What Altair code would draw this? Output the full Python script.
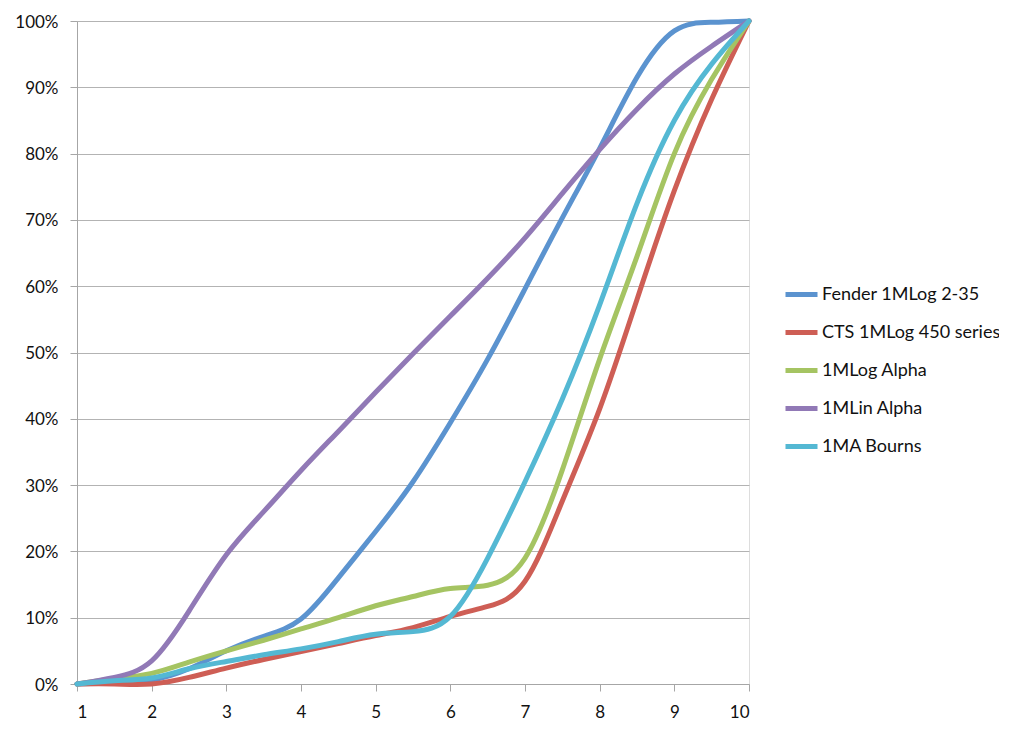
import altair as alt
import pandas as pd

x_vals = [1, 1.5, 2, 2.5, 3, 3.5, 4, 4.5, 5, 5.5, 6, 6.5, 7, 7.5, 8, 8.5, 9, 9.5, 10]

series_names = ["Fender 1MLog 2-35", "CTS 1MLog 450 series", "1MLog Alpha",
                "1MLin Alpha", "1MA Bourns"]
series_colors = ["#5B93CF", "#CE5E55", "#A5C462", "#9179B6", "#54B8D3"]

fender = [0, 0.2, 0.6, 2.3, 5, 7.2, 9.8, 16, 23, 30.5, 39.4, 49, 59.6, 70.3, 80.8, 91.5, 98.5, 99.8, 100]
cts = [0, 0, 0, 1, 2.4, 3.7, 4.9, 6.1, 7.3, 8.5, 10.2, 11.7, 15.5, 27.6, 41.5, 58, 74.4, 88.2, 100]
log_alpha = [0, 0.8, 1.6, 3.3, 5, 6.6, 8.3, 10, 11.8, 13.2, 14.4, 14.9, 19, 32.3, 49, 64.5, 80, 91.2, 100]
lin_alpha = [0, 1, 3.5, 11, 19.5, 26, 32.2, 38.1, 44, 49.8, 55.5, 61.2, 67.3, 74, 80.6, 86.7, 92, 96.2, 100]
bourns = [0, 0.5, 0.9, 2.3, 3.4, 4.4, 5.3, 6.4, 7.5, 7.9, 10.2, 19, 30.5, 43, 57.2, 72.5, 85, 93.5, 100]

all_series = [fender, cts, log_alpha, lin_alpha, bourns]

rows = []
for order, (name, vals) in enumerate(zip(series_names, all_series)):
    for xv, yv in zip(x_vals, vals):
        rows.append({"x": xv, "y": yv / 100.0, "series": name, "order": order})
df = pd.DataFrame(rows)

FONT = "Lato"

chart = alt.Chart(df).mark_line(
    interpolate="natural", strokeWidth=5, strokeCap="round", strokeJoin="round"
).encode(
    x=alt.X("x:Q", scale=alt.Scale(domain=[1, 10], nice=False, zero=False),
            axis=alt.Axis(values=list(range(1, 11)), format="d", title=None,
                          grid=False, tickSize=7, labelPadding=13,
                          domainColor="#A6A6A6", tickColor="#A6A6A6",
                          labelFont=FONT, labelFontSize=17, labelColor="#111111")),
    y=alt.Y("y:Q", scale=alt.Scale(domain=[0, 1], nice=False),
            axis=alt.Axis(values=[i / 10 for i in range(11)], format=".0%", title=None,
                          grid=True, gridColor="#B3B3B3", gridWidth=1,
                          tickSize=7, labelPadding=12, labelOffset=1,
                          domainColor="#A6A6A6", tickColor="#A6A6A6",
                          labelFont=FONT, labelFontSize=17, labelColor="#111111")),
    color=alt.Color("series:N",
                    scale=alt.Scale(domain=series_names, range=series_colors),
                    legend=alt.Legend(title=None, orient="none", legendX=706, legendY=255,
                                      symbolType="stroke", symbolSize=1024,
                                      symbolStrokeWidth=5, rowPadding=9,
                                      labelOffset=2, labelFont=FONT, labelFontSize=18,
                                      labelColor="#111111", labelLimit=300)),
    order=alt.Order("order:Q"),
    detail="series:N",
).properties(
    width=672, height=663,
    autosize=alt.AutoSizeParams(type="none"),
    padding={"left": 69, "top": 13, "right": 250, "bottom": 38},
).configure_view(stroke=None).configure(background="white")

chart.save("out.html", embed_options={"renderer": "svg", "actions": False})
